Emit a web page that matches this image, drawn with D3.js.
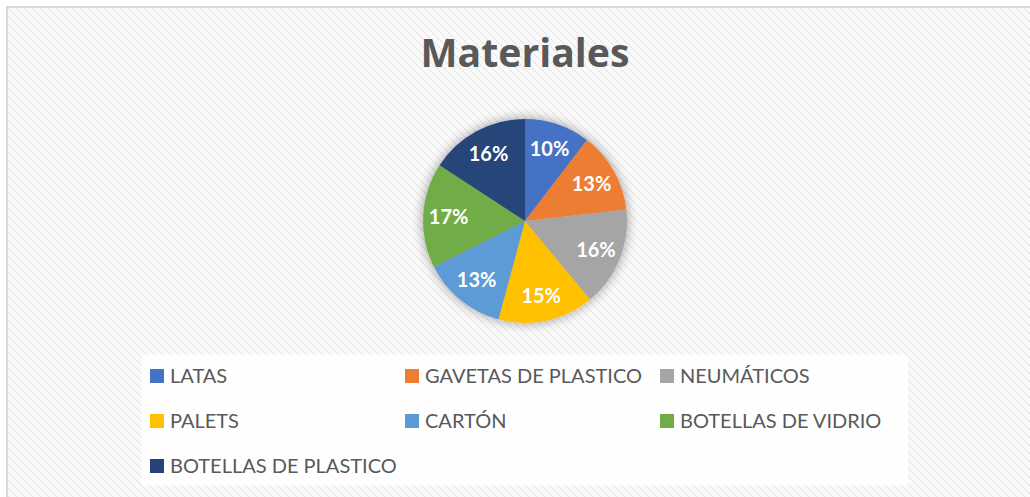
<!DOCTYPE html>
<html>
<head>
<meta charset="utf-8">
<script src="https://cdn.jsdelivr.net/npm/d3@7"></script>
<style>
    body { margin: 0; background: #fff; }
    svg { display: block; }
</style>
</head>
<body>
<div id="chart"></div>
<script>
(function () {
    "use strict";

    //Data (share of each material)
    var categories = ["LATAS", "GAVETAS DE PLASTICO", "NEUMÁTICOS", "PALETS", "CARTÓN", "BOTELLAS DE VIDRIO", "BOTELLAS DE PLASTICO"];
    var values = [10.4, 12.8, 15.8, 15.2, 13.4, 16.6, 15.8];
    var colours = ["#4472c4", "#ed7d31", "#a5a5a5", "#ffc000", "#5b9bd5", "#70ad47", "#264478"];
    var title = "Materiales";

    var width = 1030, height = 497;
    var cx = 525, cy = 221, radius = 102;
    var legendCols = 3;

    var svg = d3.select("#chart").append("svg")
        .attr("width", width)
        .attr("height", height);

    var defs = svg.append("defs");

    //Diagonal staircase texture of the chart area
    var pat = defs.append("pattern")
        .attr("id", "hatch")
        .attr("patternUnits", "userSpaceOnUse")
        .attr("width", 8)
        .attr("height", 8);
    pat.append("rect").attr("width", 8).attr("height", 8).attr("fill", "#fafafa");
    pat.append("path")
        .attr("d", "M0,0h2v2h2v2h2v2h2v2h-2v-2h-2v-2h-2v-2h-2z")
        .attr("fill", "#ececec");

    var shadow = defs.append("filter")
        .attr("id", "glow")
        .attr("x", "-30%").attr("y", "-30%")
        .attr("width", "160%").attr("height", "160%");
    shadow.append("feGaussianBlur").attr("in", "SourceAlpha").attr("stdDeviation", 6).attr("result", "b");
    shadow.append("feComponentTransfer").attr("in", "b").attr("result", "s")
        .append("feFuncA").attr("type", "linear").attr("slope", 0.4);
    var merge = shadow.append("feMerge");
    merge.append("feMergeNode").attr("in", "s");
    merge.append("feMergeNode").attr("in", "SourceGraphic");

    //Chart area with border on top/left
    svg.append("rect")
        .attr("x", 7).attr("y", 7)
        .attr("width", width).attr("height", height)
        .attr("fill", "url(#hatch)")
        .attr("stroke", "#d9d9d9")
        .attr("stroke-width", 2);

    var titleText = svg.append("text")
        .attr("x", cx)
        .attr("y", 67)
        .attr("text-anchor", "middle")
        .style("font-family", "'Open Sans', Lato, sans-serif")
        .style("font-weight", "bold")
        .style("font-size", "34px")
        .style("fill", "#595959")
        .text(title);
    //fit title to the width seen in the picture
    var tl = titleText.node().getComputedTextLength();
    if (tl > 0) titleText.style("font-size", (34 * 209 / tl) + "px");

    //Pie
    var total = d3.sum(values);
    var pie = d3.pie().sort(null).value(function (d) { return d; });
    var arcs = pie(values);
    var arc = d3.arc().innerRadius(0).outerRadius(radius);
    var labelArc = d3.arc().innerRadius(radius * 0.75).outerRadius(radius * 0.75);

    var g = svg.append("g").attr("transform", "translate(" + cx + "," + cy + ")");

    g.append("g")
        .attr("filter", "url(#glow)")
        .selectAll("path")
        .data(arcs)
        .enter().append("path")
        .attr("d", arc)
        .attr("fill", function (d, i) { return colours[i]; });

    g.selectAll(".lbl")
        .data(arcs)
        .enter().append("text")
        .attr("class", "lbl")
        .attr("transform", function (d) { return "translate(" + labelArc.centroid(d) + ")"; })
        .attr("dy", "0.36em")
        .attr("text-anchor", "middle")
        .style("font-family", "Lato, 'Open Sans', sans-serif")
        .style("font-weight", "bold")
        .style("font-size", "20px")
        .style("fill", "#fff")
        .text(function (d) { return Math.round(d.data / total * 100) + "%"; });

    //Legend
    svg.append("rect")
        .attr("x", 142).attr("y", 355)
        .attr("width", 766).attr("height", 130)
        .attr("fill", "#fff")
        .attr("opacity", 0.85);

    var legendX = d3.scalePoint().domain(d3.range(legendCols)).range([150, 660]);
    var legendY = d3.scalePoint().domain(d3.range(Math.ceil(categories.length / legendCols))).range([376, 466]);

    var items = svg.selectAll(".leg")
        .data(categories)
        .enter().append("g")
        .attr("class", "leg")
        .attr("transform", function (d, i) {
            return "translate(" + legendX(i % legendCols) + "," + legendY(Math.floor(i / legendCols)) + ")";
        });

    items.append("rect")
        .attr("x", 0).attr("y", -7)
        .attr("width", 14).attr("height", 14)
        .attr("fill", function (d, i) { return colours[i]; });

    items.append("text")
        .attr("x", 20)
        .attr("dy", "0.36em")
        .style("font-family", "Lato, 'Open Sans', sans-serif")
        .style("font-size", "20px")
        .style("fill", "#595959")
        .text(function (d) { return d; });
})();
</script>
</body>
</html>
